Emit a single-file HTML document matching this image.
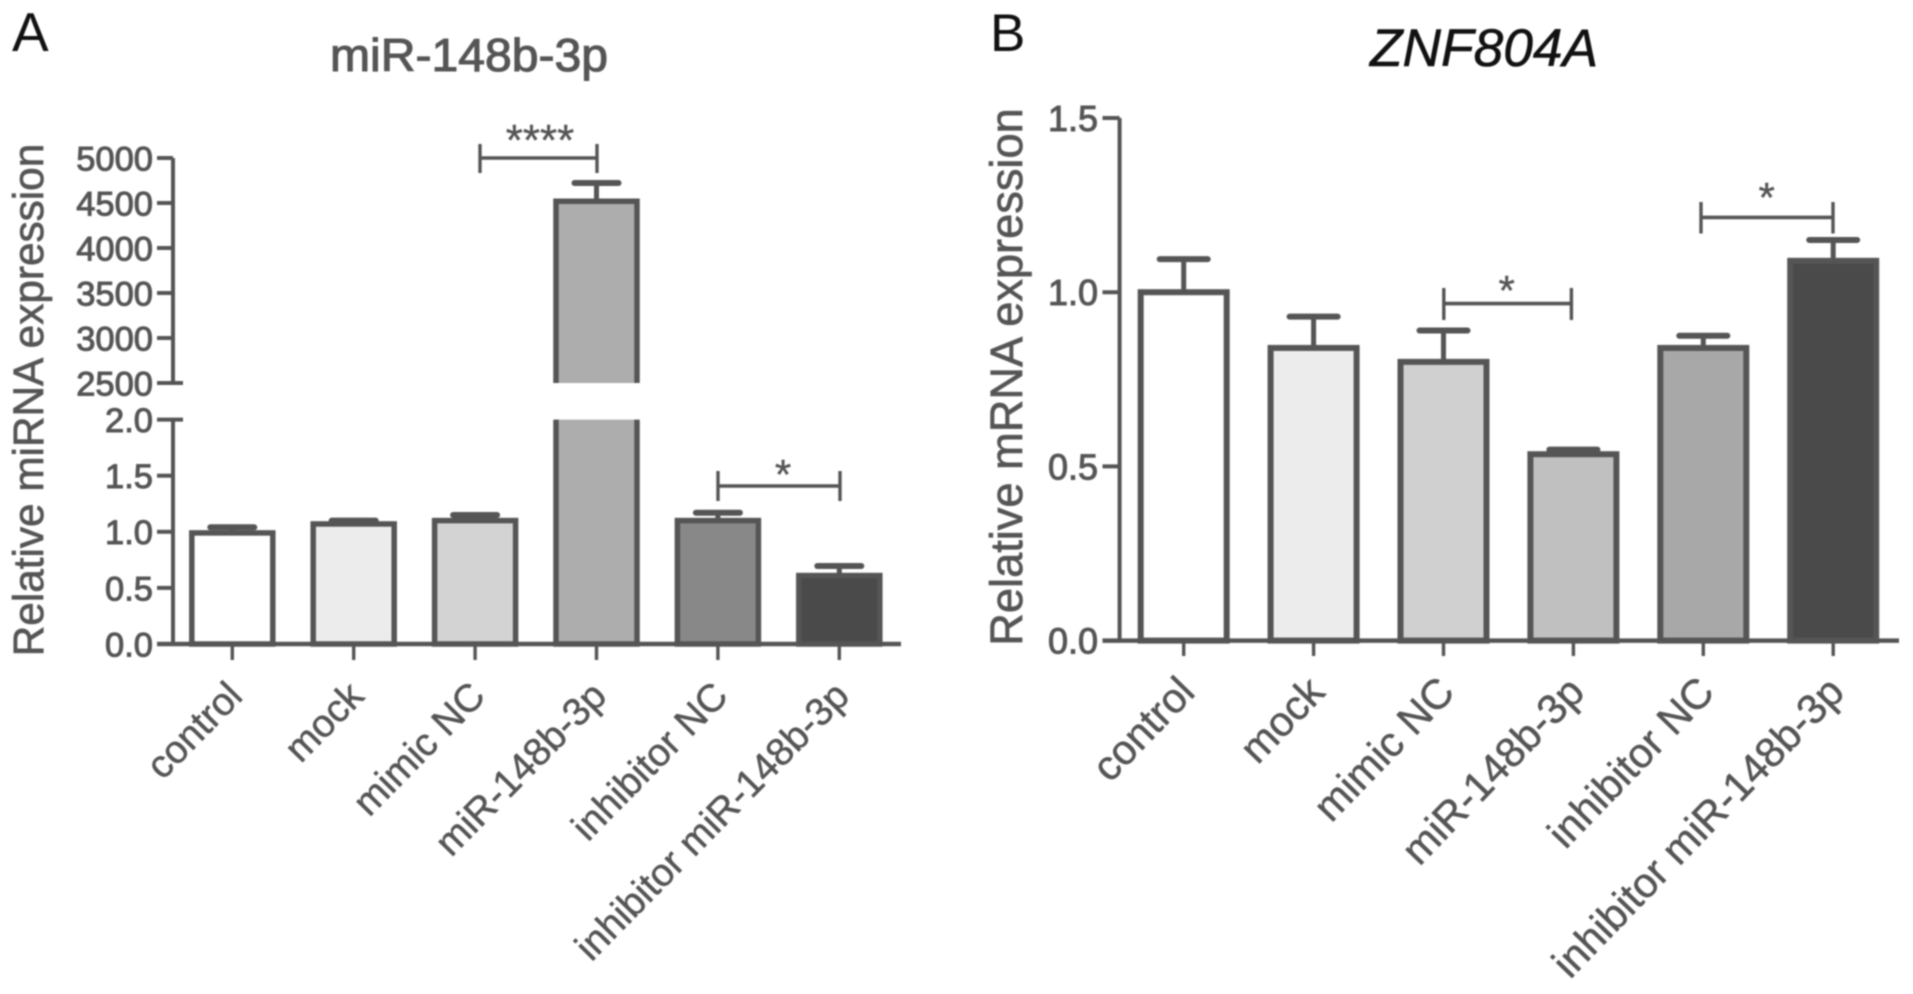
<!DOCTYPE html>
<html lang="en">
<head>
<meta charset="utf-8">
<title>miR-148b-3p and ZNF804A relative expression</title>
<style>
  html, body { margin: 0; padding: 0; background: #fff; }
  body { width: 1913px; height: 994px; overflow: hidden; }
  svg { display: block; filter: blur(0.7px); font-family: "Liberation Sans", sans-serif; }
</style>
</head>
<body>
<svg id="figure" xmlns="http://www.w3.org/2000/svg" width="1913" height="994" viewBox="0 0 1913 994">
  <text x="12" y="51" font-size="55" fill="#111">A</text>
  <text x="990" y="51" font-size="53" fill="#111">B</text>
  <text x="469" y="71" font-size="46" fill="#555" stroke="#555" stroke-width="1.1" text-anchor="middle" textLength="278" lengthAdjust="spacingAndGlyphs">miR-148b-3p</text>
  <text x="1484" y="66" font-size="53" font-style="italic" fill="#111" stroke="#111" stroke-width="0.6" text-anchor="middle" textLength="228" lengthAdjust="spacingAndGlyphs">ZNF804A</text>
  <text transform="translate(43,400) rotate(-90)" font-size="42.3" fill="#555" stroke="#555" stroke-width="0.7" text-anchor="middle">Relative miRNA expression</text>
  <text transform="translate(1022,377) rotate(-90)" font-size="45.2" fill="#555" stroke="#555" stroke-width="0.7" text-anchor="middle">Relative mRNA expression</text>
  <g id="chart-a"></g>
  <g id="chart-b"></g>
</svg>
<script>
// Shared categories
const categories = ["control", "mock", "mimic NC", "miR-148b-3p", "inhibitor NC", "inhibitor miR-148b-3p"];

// Panel A data
const aValues = [0.99, 1.07, 1.10, 4520, 1.10, 0.61];
const aErrorTops = [1.04, 1.10, 1.15, 4722, 1.17, 0.695];
const aFills = ["#ffffff", "#ececec", "#d3d3d3", "#adadad", "#888888", "#4a4a4a"];
const aLowTicks = [0, 0.5, 1, 1.5, 2];
const aLowTickLabels = ["0.0", "0.5", "1.0", "1.5", "2.0"];
const aHighTicks = [2500, 3000, 3500, 4000, 4500, 5000];
const aHighTickLabels = ["2500", "3000", "3500", "4000", "4500", "5000"];

// Panel B data
const bValues = [1.0, 0.84, 0.80, 0.535, 0.84, 1.09];
const bErrorTops = [1.095, 0.93, 0.89, 0.548, 0.875, 1.15];
const bFills = ["#ffffff", "#ececec", "#d0d0d0", "#c0c0c0", "#a8a8a8", "#4a4a4a"];
const bTicks = [0, 0.5, 1, 1.5];
const bTickLabels = ["0.0", "0.5", "1.0", "1.5"];

const INK = "#555555";
const NS = "http://www.w3.org/2000/svg";

function svgEl(parent, tag, attrs) {
  const el = document.createElementNS(NS, tag);
  for (const k in attrs) el.setAttribute(k, attrs[k]);
  parent.appendChild(el);
  return el;
}

function slug(s) { return s.toLowerCase().replace(/[^a-z0-9]+/g, "-"); }

// Panel A axes
const aX = i => 232.3 + i * 121.4;
const aYLow = v => 644 - v * 112.2;
const aYHigh = v => 383 - (v - 2500) * 0.09;
const aY = v => (v > 2 ? aYHigh(v) : aYLow(v));

// Panel B axes
const bX = i => 1183.7 + i * 129.9;
const bY = v => 640.6 - v * 348.4;

function line(g, x1, y1, x2, y2, width) {
  return svgEl(g, "line", { x1, y1, x2, y2, stroke: INK, "stroke-width": width });
}

function drawBar(g, cx, halfW, y0, yTop, fill, sw, capHalf, yErr, name, breakTop, breakBottom) {
  if (breakTop === undefined) {
    const bar = svgEl(g, "rect", { x: cx - halfW, y: yTop, width: halfW * 2, height: y0 - yTop, fill, stroke: INK, "stroke-width": sw });
    
    
  } else {
    const lower = svgEl(g, "path", { d: `M${cx - halfW} ${breakBottom}V${y0}H${cx + halfW}V${breakBottom}`, fill, stroke: INK, "stroke-width": sw });
    
    
    const upper = svgEl(g, "path", { d: `M${cx - halfW} ${breakTop}V${yTop}H${cx + halfW}V${breakTop}`, fill, stroke: INK, "stroke-width": sw });
    
    
  }
  const stem = line(g, cx, yTop, cx, yErr, 5);
  
  
  const cap = svgEl(g, "line", { x1: cx - capHalf, y1: yErr, x2: cx + capHalf, y2: yErr, stroke: INK, "stroke-width": 6, "stroke-linecap": "round" });
  
  
}

function drawBracket(g, x1, x2, y, yA, yB, starText, starX, starY, starSize, name) {
  const h = line(g, x1, y, x2, y, 3.6);
  
  
  const l = line(g, x1, yA, x1, yB, 3.4);
  
  
  const r = line(g, x2, yA, x2, yB, 3.4);
  
  
  const t = svgEl(g, "text", { x: starX, y: starY, "font-size": starSize, fill: INK, "text-anchor": "middle", stroke: INK, "stroke-width": 0.4 });
  t.textContent = starText;
  
  
}

function drawTickLabel(g, xEnd, y, text, size, name) {
  const t = svgEl(g, "text", { x: xEnd, y: y + size * 0.36, "font-size": size, fill: INK, "text-anchor": "end", stroke: INK, "stroke-width": 1 });
  t.textContent = text;
  
  
}

function drawCategoryLabels(g, xFn, yBase, size, offsetX, angle, prefix) {
  categories.forEach((c, i) => {
    const x = xFn(i) + offsetX;
    const t = svgEl(g, "text", { transform: `translate(${x},${yBase}) rotate(${angle})`, "font-size": size, fill: INK, "text-anchor": "end", stroke: INK, "stroke-width": 0.5 });
    t.textContent = c;
    
    
  });
}

// ---------- Panel A ----------
const ga = document.getElementById("chart-a");

aValues.forEach((v, i) => {
  const broken = v > 2;
  drawBar(ga, aX(i), 40.5, aYLow(0), aY(v), aFills[i], 5.5, 22, aY(aErrorTops[i]), slug(categories[i]),
    broken ? aYHigh(2500) : undefined, broken ? aYLow(2) : undefined);
});

const aAxisHigh = line(ga, 173, aYHigh(5000), 173, aYHigh(2500), 4);


const aAxisLow = line(ga, 173, aYLow(2), 173, aYLow(0), 4);


const aAxisX = line(ga, 157, aYLow(0), 901, aYLow(0), 4.5);



aHighTicks.forEach((v, i) => {
  const tick = line(ga, 157, aYHigh(v), v === 2500 ? 183 : 173, aYHigh(v), 4);
  
  
  drawTickLabel(ga, 153, aYHigh(v), aHighTickLabels[i], 34.5, 'chart-a-y-label-' + aHighTickLabels[i]);
});
aLowTicks.forEach((v, i) => {
  const tick = line(ga, 157, aYLow(v), v === 2 ? 183 : 173, aYLow(v), 4);
  
  
  drawTickLabel(ga, 153, aYLow(v), aLowTickLabels[i], 34.5, 'chart-a-y-label-' + aLowTickLabels[i]);
});
categories.forEach((c, i) => {
  const tick = line(ga, aX(i), aYLow(0), aX(i), 660, 3.4);
  
  
});
drawCategoryLabels(ga, aX, 698, 38.8, 12, -45.5, 'chart-a');

drawBracket(ga, 480, 597, 158, 144, 173, "****", 540, 155, 44, 'a-mimic');
drawBracket(ga, 718, 840, 486, 471, 501, "*", 783, 489, 42, 'a-inhibitor');

// ---------- Panel B ----------
const gb = document.getElementById("chart-b");

bValues.forEach((v, i) => {
  drawBar(gb, bX(i), 43, bY(0), bY(v), bFills[i], 6, 24, bY(bErrorTops[i]), slug(categories[i]));
});

const bAxisY = line(gb, 1119.6, bY(1.5), 1119.6, bY(0), 4);


const bAxisX = line(gb, 1102.5, bY(0), 1899, bY(0), 4.5);



bTicks.forEach((v, i) => {
  const tick = line(gb, 1102.5, bY(v), 1119.6, bY(v), 4);
  
  
  drawTickLabel(gb, 1098, bY(v), bTickLabels[i], 36, 'chart-b-y-label-' + bTickLabels[i]);
});
categories.forEach((c, i) => {
  const tick = line(gb, bX(i), bY(0), bX(i), 656, 3.4);
  
  
});
drawCategoryLabels(gb, bX, 694, 41.6, 13, -46, 'chart-b');

drawBracket(gb, 1443.8, 1571.4, 303.6, 288, 320, "*", 1506.7, 305, 42, 'b-mimic');
drawBracket(gb, 1701, 1833, 217.4, 202, 233.5, "*", 1766.7, 212, 42, 'b-inhibitor');
</script>
</body>
</html>
